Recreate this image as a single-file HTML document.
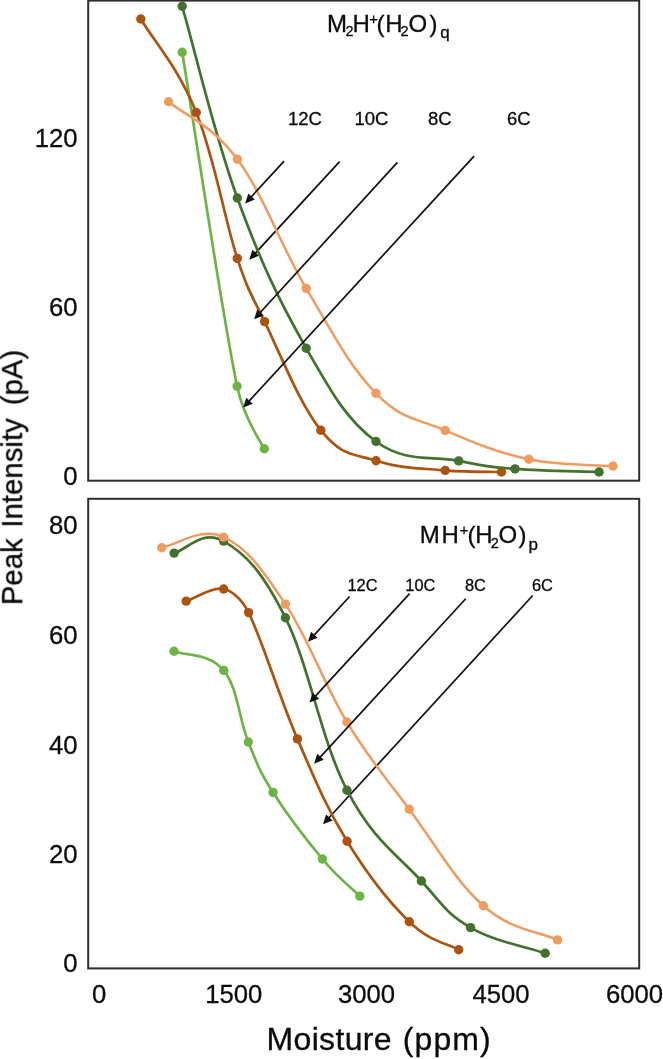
<!DOCTYPE html><html><head><meta charset="utf-8"><title>Peak Intensity vs Moisture</title>
<style>html,body{margin:0;padding:0;background:#fff}svg{display:block}text{font-family:"Liberation Sans", Arial, Helvetica, sans-serif;fill:#0b0b0b;stroke:#0b0b0b;stroke-width:0.3px;stroke-linejoin:round}</style></head><body>
<svg width="663" height="1059" viewBox="0 0 663 1059">
<rect width="663" height="1059" fill="#fff"/>
<line x1="339.6" y1="161.7" x2="254.3" y2="254.3" stroke="#111" stroke-width="1.70"/><polygon points="249.3,259.7 252.4,249.8 258.9,255.8" fill="#111"/>
<line x1="532.7" y1="595.5" x2="328.0" y2="818.8" stroke="#111" stroke-width="1.70"/><polygon points="323.0,824.3 326.1,814.4 332.6,820.4" fill="#111"/>
<path d="M182.2 52.2 C195.9 135.7 221.4 310.3 237.1 386.3 C244.0 419.7 262.0 443.5 264.3 448.8" fill="none" stroke="#6DB446" stroke-width="2.70" stroke-linecap="round" stroke-linejoin="round"/>
<circle cx="182.2" cy="52.2" r="4.7" fill="#6DB446"/>
<circle cx="237.1" cy="386.3" r="4.7" fill="#6DB446"/>
<circle cx="264.3" cy="448.8" r="4.7" fill="#6DB446"/>
<path d="M140.8 19.0 C154.7 42.4 177.8 66.6 196.3 112.5 C214.8 158.4 224.2 218.3 237.3 258.4 C248.0 291.1 251.5 294.7 264.6 321.6 C280.6 354.5 299.4 403.5 320.8 430.2 C342.2 456.9 352.2 453.1 376.0 460.8 C399.8 468.5 421.1 468.3 445.2 470.4 C469.3 472.5 487.4 471.6 501.5 472.0" fill="none" stroke="#AC5310" stroke-width="2.70" stroke-linecap="round" stroke-linejoin="round"/>
<circle cx="140.8" cy="19.0" r="4.7" fill="#AC5310"/>
<circle cx="196.3" cy="112.5" r="4.7" fill="#AC5310"/>
<circle cx="237.3" cy="258.4" r="4.7" fill="#AC5310"/>
<circle cx="264.6" cy="321.6" r="4.7" fill="#AC5310"/>
<circle cx="320.8" cy="430.2" r="4.7" fill="#AC5310"/>
<circle cx="376.0" cy="460.8" r="4.7" fill="#AC5310"/>
<circle cx="445.2" cy="470.4" r="4.7" fill="#AC5310"/>
<circle cx="501.5" cy="472.0" r="4.7" fill="#AC5310"/>
<path d="M182.2 6.3 C196.0 54.2 213.5 132.5 237.3 198.0 C261.1 263.5 279.6 301.5 306.2 348.2 C332.8 394.9 346.8 419.9 376.0 441.5 C405.2 463.1 432.1 455.6 458.7 460.9 C485.3 466.2 488.1 466.8 515.0 468.9 C541.9 471.0 578.1 471.2 599.1 472.0" fill="none" stroke="#42722D" stroke-width="2.70" stroke-linecap="round" stroke-linejoin="round"/>
<circle cx="182.2" cy="6.3" r="4.7" fill="#42722D"/>
<circle cx="237.3" cy="198.0" r="4.7" fill="#42722D"/>
<circle cx="306.2" cy="348.2" r="4.7" fill="#42722D"/>
<circle cx="376.0" cy="441.5" r="4.7" fill="#42722D"/>
<circle cx="458.7" cy="460.9" r="4.7" fill="#42722D"/>
<circle cx="515.0" cy="468.9" r="4.7" fill="#42722D"/>
<circle cx="599.1" cy="472.0" r="4.7" fill="#42722D"/>
<path d="M168.6 101.7 C185.8 116.1 211.0 123.5 237.4 159.3 C263.8 195.1 279.6 243.5 306.2 288.4 C332.8 333.2 349.4 366.1 376.0 393.3 C402.6 420.5 415.9 417.8 445.2 430.4 C474.5 443.0 496.7 452.5 528.9 459.3 C561.1 466.1 592.0 464.4 613.0 466.1" fill="none" stroke="#F19C5E" stroke-width="2.50" stroke-linecap="round" stroke-linejoin="round"/>
<circle cx="168.6" cy="101.7" r="4.7" fill="#F19C5E"/>
<circle cx="237.4" cy="159.3" r="4.7" fill="#F19C5E"/>
<circle cx="306.2" cy="288.4" r="4.7" fill="#F19C5E"/>
<circle cx="376.0" cy="393.3" r="4.7" fill="#F19C5E"/>
<circle cx="445.2" cy="430.4" r="4.7" fill="#F19C5E"/>
<circle cx="528.9" cy="459.3" r="4.7" fill="#F19C5E"/>
<circle cx="613.0" cy="466.1" r="4.7" fill="#F19C5E"/>
<path d="M174.0 651.2 C186.4 656.0 209.5 653.0 223.7 670.4 C237.9 687.8 238.8 718.6 248.3 742.0 C257.8 765.4 258.9 770.1 273.1 792.5 C287.3 814.9 305.8 839.1 322.4 859.0 C339.0 878.9 350.4 886.8 359.8 896.1" fill="none" stroke="#6DB446" stroke-width="2.70" stroke-linecap="round" stroke-linejoin="round"/>
<circle cx="174.0" cy="651.2" r="4.7" fill="#6DB446"/>
<circle cx="223.7" cy="670.4" r="4.7" fill="#6DB446"/>
<circle cx="248.3" cy="742.0" r="4.7" fill="#6DB446"/>
<circle cx="273.1" cy="792.5" r="4.7" fill="#6DB446"/>
<circle cx="322.4" cy="859.0" r="4.7" fill="#6DB446"/>
<circle cx="359.8" cy="896.1" r="4.7" fill="#6DB446"/>
<path d="M186.2 601.1 C195.5 598.1 211.6 586.8 223.6 589.0 C230.0 590.2 241.0 597.2 248.6 612.6 C262.7 641.3 278.5 695.1 297.4 738.9 C316.3 782.7 325.7 806.2 347.1 841.2 C368.5 876.2 387.9 900.9 409.3 921.7 C430.7 942.5 446.4 942.8 458.7 949.8" fill="none" stroke="#AC5310" stroke-width="2.70" stroke-linecap="round" stroke-linejoin="round"/>
<circle cx="186.2" cy="601.1" r="4.7" fill="#AC5310"/>
<circle cx="223.6" cy="589.0" r="4.7" fill="#AC5310"/>
<circle cx="248.6" cy="612.6" r="4.7" fill="#AC5310"/>
<circle cx="297.4" cy="738.9" r="4.7" fill="#AC5310"/>
<circle cx="347.1" cy="841.2" r="4.7" fill="#AC5310"/>
<circle cx="409.3" cy="921.7" r="4.7" fill="#AC5310"/>
<circle cx="458.7" cy="949.8" r="4.7" fill="#AC5310"/>
<path d="M174.1 553.1 C186.5 550.1 202.3 528.7 223.6 541.1 C244.9 553.5 261.7 570.0 285.4 617.7 C309.1 665.4 320.9 739.7 347.0 790.2 C373.1 840.7 397.7 854.7 421.4 881.0 C445.1 907.3 446.9 913.7 470.6 927.6 C494.3 941.5 526.6 946.9 545.2 953.3" fill="none" stroke="#42722D" stroke-width="2.70" stroke-linecap="round" stroke-linejoin="round"/>
<circle cx="174.1" cy="553.1" r="4.7" fill="#42722D"/>
<circle cx="223.6" cy="541.1" r="4.7" fill="#42722D"/>
<circle cx="285.4" cy="617.7" r="4.7" fill="#42722D"/>
<circle cx="347.0" cy="790.2" r="4.7" fill="#42722D"/>
<circle cx="421.4" cy="881.0" r="4.7" fill="#42722D"/>
<circle cx="470.6" cy="927.6" r="4.7" fill="#42722D"/>
<circle cx="545.2" cy="953.3" r="4.7" fill="#42722D"/>
<path d="M161.7 547.7 C177.2 545.1 199.9 526.3 223.6 537.1 C247.3 547.9 261.8 568.7 285.4 604.1 C309.0 639.5 323.2 682.7 346.9 722.0 C370.6 761.3 383.2 774.0 409.3 809.2 C435.4 844.4 454.9 880.6 483.3 905.7 C511.7 930.8 539.0 931.4 557.5 939.9" fill="none" stroke="#F19C5E" stroke-width="2.50" stroke-linecap="round" stroke-linejoin="round"/>
<circle cx="161.7" cy="547.7" r="4.7" fill="#F19C5E"/>
<circle cx="223.6" cy="537.1" r="4.7" fill="#F19C5E"/>
<circle cx="285.4" cy="604.1" r="4.7" fill="#F19C5E"/>
<circle cx="346.9" cy="722.0" r="4.7" fill="#F19C5E"/>
<circle cx="409.3" cy="809.2" r="4.7" fill="#F19C5E"/>
<circle cx="483.3" cy="905.7" r="4.7" fill="#F19C5E"/>
<circle cx="557.5" cy="939.9" r="4.7" fill="#F19C5E"/>
<rect x="88.2" y="0.6" width="551" height="480.1" fill="none" stroke="#2e2e2e" stroke-width="2"/>
<rect x="88.2" y="498.8" width="551" height="469.6" fill="none" stroke="#2e2e2e" stroke-width="2"/>
<line x1="284.1" y1="161.1" x2="250.2" y2="198.0" stroke="#111" stroke-width="1.70"/><polygon points="245.2,203.4 248.3,193.5 254.8,199.5" fill="#111"/>
<line x1="397.4" y1="162.4" x2="259.1" y2="313.8" stroke="#111" stroke-width="1.70"/><polygon points="254.1,319.3 257.2,309.4 263.7,315.4" fill="#111"/>
<line x1="474.1" y1="156.1" x2="248.2" y2="402.1" stroke="#111" stroke-width="1.70"/><polygon points="243.2,407.6 246.3,397.7 252.8,403.7" fill="#111"/>
<line x1="349.6" y1="596.5" x2="313.0" y2="636.3" stroke="#111" stroke-width="1.70"/><polygon points="308.0,641.7 311.1,631.8 317.6,637.8" fill="#111"/>
<line x1="409.6" y1="593.7" x2="314.5" y2="697.2" stroke="#111" stroke-width="1.70"/><polygon points="309.5,702.6 312.6,692.7 319.1,698.7" fill="#111"/>
<line x1="465.7" y1="598.7" x2="319.1" y2="758.3" stroke="#111" stroke-width="1.70"/><polygon points="314.1,763.7 317.2,753.8 323.7,759.8" fill="#111"/>
<g opacity="0.999">
<text x="288.0" y="124.8" font-size="18.5" text-anchor="start" >12C</text>
<text x="354.5" y="124.8" font-size="18.5" text-anchor="start" >10C</text>
<text x="428.0" y="124.8" font-size="18.5" text-anchor="start" >8C</text>
<text x="507.0" y="124.8" font-size="18.5" text-anchor="start" >6C</text>
<text x="347.5" y="590.5" font-size="16.4" text-anchor="start" >12C</text>
<text x="405.3" y="590.5" font-size="16.4" text-anchor="start" >10C</text>
<text x="465.0" y="590.5" font-size="16.4" text-anchor="start" >8C</text>
<text x="531.9" y="590.5" font-size="16.4" text-anchor="start" >6C</text>
<text x="77.5" y="147.3" font-size="25.7" text-anchor="end" >120</text>
<text x="77.5" y="315.6" font-size="25.7" text-anchor="end" >60</text>
<text x="77.5" y="484.6" font-size="25.7" text-anchor="end" >0</text>
<text x="77.5" y="534.3" font-size="25.7" text-anchor="end" >80</text>
<text x="77.5" y="643.6" font-size="25.7" text-anchor="end" >60</text>
<text x="77.5" y="753.5" font-size="25.7" text-anchor="end" >40</text>
<text x="77.5" y="862.8" font-size="25.7" text-anchor="end" >20</text>
<text x="77.5" y="971.6" font-size="25.7" text-anchor="end" >0</text>
<text x="99.2" y="1003.0" font-size="25.7" text-anchor="middle" >0</text>
<text x="233.8" y="1003.0" font-size="25.7" text-anchor="middle" >1500</text>
<text x="366.6" y="1003.0" font-size="25.7" text-anchor="middle" >3000</text>
<text x="501.0" y="1003.0" font-size="25.7" text-anchor="middle" >4500</text>
<text x="634.5" y="1003.0" font-size="25.7" text-anchor="middle" >6000</text>
<text x="266.6" y="1049.9" font-size="32" letter-spacing="0.32" word-spacing="0">Moisture <tspan x="402.8" letter-spacing="1.1">(ppm)</tspan></text>
<text transform="translate(22.2,605.2) rotate(-90)" font-size="29.3" letter-spacing="0.05">Peak <tspan x="77.5">Intensity </tspan><tspan x="199.9">(pA)</tspan></text>
<text x="327.1" y="31.8" font-size="24.0">M</text><text x="345.4" y="35.8" font-size="14.5">2</text><text x="352.5" y="31.8" font-size="24.0">H</text><text x="369.2" y="23.6" font-size="14.8">+</text><text x="376.4" y="31.8" font-size="24.0">(</text><text x="385.2" y="31.8" font-size="24.0">H</text><text x="400.4" y="35.8" font-size="14.5">2</text><text x="408.4" y="31.8" font-size="24.0">O</text><text x="429.5" y="31.8" font-size="24.0">)</text><text x="440.2" y="38.4" font-size="17.0">q</text>
<text x="419.8" y="543.2" font-size="24.0">M</text><text x="441.4" y="543.2" font-size="24.0">H</text><text x="459.8" y="535.2" font-size="14.8">+</text><text x="467.5" y="543.2" font-size="24.0">(</text><text x="475.2" y="543.2" font-size="24.0">H</text><text x="490.8" y="548.0" font-size="14.5">2</text><text x="498.4" y="543.2" font-size="24.0">O</text><text x="518.4" y="543.2" font-size="24.0">)</text><text x="528.4" y="550.3" font-size="17.0">p</text>
</g>
</svg></body></html>
